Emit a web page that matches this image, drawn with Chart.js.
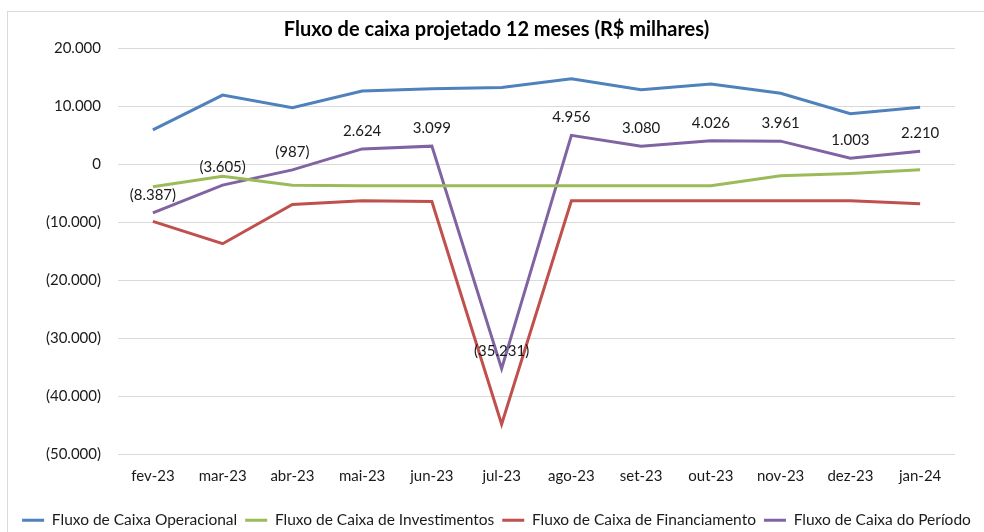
<!DOCTYPE html>
<html>
<head>
<meta charset="utf-8">
<script src="https://cdn.jsdelivr.net/npm/chart.js@4"></script>
<style>
  html, body { margin: 0; padding: 0; background: #fff; overflow: hidden; }
  #wrap {
    position: absolute; left: 7px; top: 11px;
    width: 977px; height: 526px;
    border-left: 1px solid #d9d9d9; border-top: 1px solid #d9d9d9;
  }
</style>
</head>
<body>
<div id="wrap"><canvas id="fluxo"></canvas></div>
<script>
const meses = ["fev-23", "mar-23", "abr-23", "mai-23", "jun-23", "jul-23",
  "ago-23", "set-23", "out-23", "nov-23", "dez-23", "jan-24"];

const operacional = [5900, 11900, 9700, 12600, 13000, 13200, 14700, 12800, 13800, 12200, 8700, 9800];
const investimentos = [-3900, -2100, -3650, -3700, -3700, -3700, -3700, -3700, -3700, -2000, -1600, -950];
const financiamento = [-9850, -13700, -6950, -6300, -6450, -44800, -6300, -6300, -6300, -6300, -6300, -6800];
const periodo = [-8387, -3605, -987, 2624, 3099, -35231, 4956, 3080, 4026, 3961, 1003, 2210];

const yMin = -50000, yMax = 20000, yStep = 10000;

const fonte = "Lato, 'Open Sans', sans-serif";

// formato brasileiro, negativos entre parênteses
function fmt(v) {
  const s = Math.abs(Math.round(v)).toString().replace(/\B(?=(\d{3})+(?!\d))/g, ".");
  return v < 0 ? "(" + s + ")" : s;
}

// rótulos de dados só na série "do Período"
const rotulos = {
  id: "rotulos",
  afterDatasetsDraw(chart) {
    const ctx = chart.ctx;
    const meta = chart.getDatasetMeta(3);
    ctx.save();
    ctx.font = "15px " + fonte;
    ctx.fillStyle = "#1a1a1a";
    ctx.textAlign = "center";
    ctx.textBaseline = "middle";
    meta.data.forEach((pt, i) => {
      ctx.fillText(fmt(periodo[i]), pt.x, pt.y - 18);
    });
    ctx.restore();
  }
};

function serie(label, data, cor) {
  return {
    label: label,
    data: data,
    borderColor: cor,
    backgroundColor: cor,
    borderWidth: 3,
    pointRadius: 0,
    tension: 0,
  };
}

new Chart(document.getElementById("fluxo"), {
  type: "line",
  data: {
    labels: meses,
    datasets: [
      serie("Fluxo de Caixa Operacional", operacional, "#4f81bd"),
      serie("Fluxo de Caixa de Investimentos", investimentos, "#9bbb59"),
      serie("Fluxo de Caixa de Financiamento", financiamento, "#c0504d"),
      serie("Fluxo de Caixa do Período", periodo, "#8064a2"),
    ],
  },
  plugins: [rotulos],
  options: {
    responsive: true,
    maintainAspectRatio: false,
    animation: false,
    layout: { padding: 0 },
    scales: {
      x: {
        offset: true,
        grid: { display: false, drawTicks: false },
        border: { display: false },
        ticks: { padding: 13, color: "#1a1a1a", font: { family: fonte, size: 15 }, maxRotation: 0 },
        afterFit(s) { s.height = 50; },
      },
      y: {
        min: yMin,
        max: yMax,
        grid: { color: "#d9d9d9", lineWidth: 1, drawTicks: false },
        border: { display: false },
        ticks: {
          stepSize: yStep,
          padding: 17,
          color: "#1a1a1a",
          font: { family: fonte, size: 15 },
          callback: (v) => fmt(v),
        },
        afterFit(s) { s.width = 110; },
      },
      // eixo vazio só para deixar margem à direita do gráfico
      margem: {
        position: "right",
        display: true,
        grid: { display: false, drawTicks: false },
        border: { display: false },
        ticks: { display: false },
        afterFit(s) { s.width = 30; },
      },
    },
    plugins: {
      title: {
        display: true,
        text: "Fluxo de caixa projetado 12 meses (R$ milhares)",
        color: "#000",
        font: { family: fonte, size: 20, weight: "bold" },
        padding: { top: 6, bottom: 6 },
      },
      legend: {
        position: "bottom",
        labels: {
          color: "#1a1a1a",
          font: { family: fonte, size: 15.5 },
          boxWidth: 22,
          boxHeight: 3,
          padding: 8,
          generateLabels(chart) {
            return chart.data.datasets.map((d, i) => ({
              text: d.label,
              fillStyle: d.borderColor,
              strokeStyle: d.borderColor,
              lineWidth: 0,
              fontColor: "#1a1a1a",
              datasetIndex: i,
              hidden: false,
            }));
          },
        },
      },
      tooltip: { enabled: false },
    },
  },
});
</script>
</body>
</html>
